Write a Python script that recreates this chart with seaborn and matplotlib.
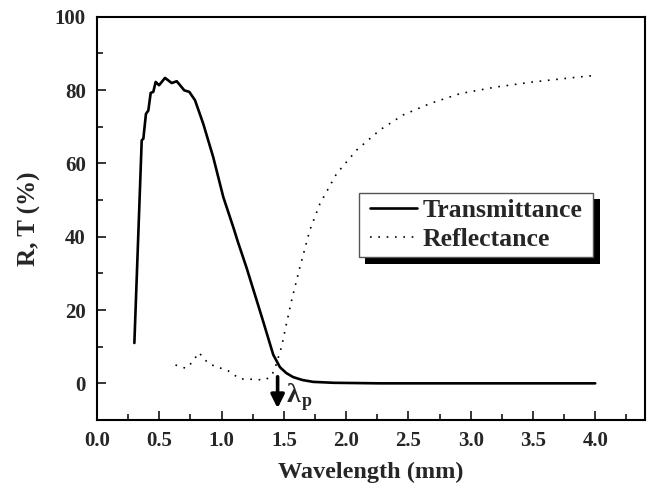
import matplotlib
matplotlib.use('Agg')
import matplotlib.pyplot as plt
import numpy as np
import pandas as pd
import seaborn as sns
from matplotlib.patches import Rectangle
from matplotlib.ticker import MultipleLocator
from matplotlib.transforms import IdentityTransform

# values
trans_x = [0.30, 0.359, 0.372, 0.393, 0.412, 0.431, 0.452, 0.471, 0.498, 0.546, 0.600,
           0.640, 0.701, 0.741, 0.787, 0.853, 0.933, 1.014, 1.094, 1.132, 1.201, 1.274,
           1.335, 1.415, 1.469, 1.520, 1.575, 1.650, 1.736, 1.90, 2.27, 3.0, 4.0]
trans_y = [11.0, 66.3, 66.7, 73.5, 74.4, 79.2, 79.5, 82.2, 81.3, 83.3, 81.9,
           82.4, 79.9, 79.5, 77.2, 70.8, 61.7, 50.8, 42.6, 38.5, 31.5, 23.5,
           16.8, 7.8, 4.4, 2.8, 1.7, 0.9, 0.4, 0.15, 0.0, 0.0, 0.0]

refl_x = [0.63, 0.714, 0.76, 0.819, 0.86, 0.907, 1.054, 1.148, 1.254, 1.348, 1.40,
          1.429, 1.482, 1.522, 1.563, 1.629, 1.709, 1.79, 1.924, 2.084, 2.271,
          2.458, 2.673, 2.913, 3.2, 3.5, 3.8, 4.0]
refl_y = [5.0, 4.1, 5.6, 8.4, 6.6, 5.2, 3.4, 1.2, 1.1, 0.9, 2.0,
          4.1, 10.0, 16.4, 22.7, 31.7, 41.8, 49.0, 57.2, 63.6, 69.1,
          73.2, 76.3, 79.0, 80.8, 82.2, 83.3, 84.0]

series_names = ['Transmittance', 'Reflectance']
x_ticks = [0.0, 0.5, 1.0, 1.5, 2.0, 2.5, 3.0, 3.5, 4.0]
y_ticks = [0, 20, 40, 60, 80, 100]
lambda_p = 1.45


def main():
    sns.set_style('ticks')
    plt.rcParams['font.family'] = ['Liberation Serif', 'DejaVu Serif']
    plt.rcParams['font.weight'] = 'bold'

    fig = plt.figure(figsize=(6.48, 4.95), dpi=100)
    ax = fig.add_axes([0.1497, 0.1515, 0.8457, 0.8148])

    trans = pd.DataFrame({'x': trans_x, 'y': trans_y})
    refl = pd.DataFrame({'x': refl_x, 'y': refl_y})
    sns.lineplot(data=trans, x='x', y='y', ax=ax, color='black', lw=1.9,
                 estimator=None, sort=False, label=series_names[0])
    sns.lineplot(data=refl, x='x', y='y', ax=ax, color='black', lw=1.2,
                 estimator=None, sort=False, label=series_names[1],
                 linestyle=(0, (1, 4)))

    ax.set_xlim(0, 4.4)
    ax.set_ylim(-10, 100)
    ax.set_xticks(x_ticks)
    ax.set_xticklabels([f'{v:.1f}' for v in x_ticks])
    ax.set_yticks(y_ticks)
    ax.xaxis.set_minor_locator(MultipleLocator(0.25))
    ax.yaxis.set_minor_locator(MultipleLocator(10))
    ax.tick_params(which='both', direction='in', top=False, right=False,
                   width=1.1, color='black')
    ax.tick_params(which='major', length=6.5, labelsize=15, pad=8)
    ax.tick_params(which='minor', length=4)
    for lab in ax.get_xticklabels() + ax.get_yticklabels():
        lab.set_fontweight('bold')
    for sp in ax.spines.values():
        sp.set_linewidth(1.5)
        sp.set_color('black')

    ax.set_xlabel('Wavelength (mm)', fontsize=17.5, fontweight='bold', labelpad=8)
    ax.set_ylabel('R, T (%)', fontsize=18, fontweight='bold', labelpad=10)

    # plasma wavelength marker
    ax.annotate('', xy=(lambda_p, -6.8), xytext=(lambda_p, 1.8),
                arrowprops=dict(arrowstyle='-|>', lw=2.6, color='black',
                                mutation_scale=20, shrinkA=0, shrinkB=0))
    ax.text(lambda_p + 0.125, -3.3, 'λ', fontsize=20, fontweight='bold',
            ha='center', va='center')
    ax.text(lambda_p + 0.235, -5.0, 'p', fontsize=13, fontweight='bold',
            ha='center', va='center')

    # legend content without frame; frame and shadow drawn round it below
    leg = ax.legend(loc='upper left', bbox_to_anchor=(0.498, 0.547), borderaxespad=0,
                    frameon=False, prop={'size': 18.5, 'weight': 'bold'},
                    handlelength=1.85, handletextpad=0.2, labelspacing=0.2,
                    borderpad=0)
    leg.set_zorder(7)

    fig.canvas.draw()
    bb = leg.get_window_extent()
    pad_x, pad_y = 11, 6.5
    x0, y0 = bb.x0 - pad_x, bb.y0 - pad_y
    w, h = bb.width + 2 * pad_x, bb.height + 2 * pad_y
    shadow = Rectangle((x0 + 6.5, y0 - 6.5), w, h, transform=IdentityTransform(),
                       facecolor='black', edgecolor='none', zorder=5.5)
    frame = Rectangle((x0, y0), w, h, transform=IdentityTransform(),
                      facecolor='white', edgecolor='#555555', lw=1.0, zorder=6)
    ax.add_artist(shadow)
    ax.add_artist(frame)

    fig.savefig('out.png', dpi=100)
    plt.close(fig)


if __name__ == '__main__':
    main()
